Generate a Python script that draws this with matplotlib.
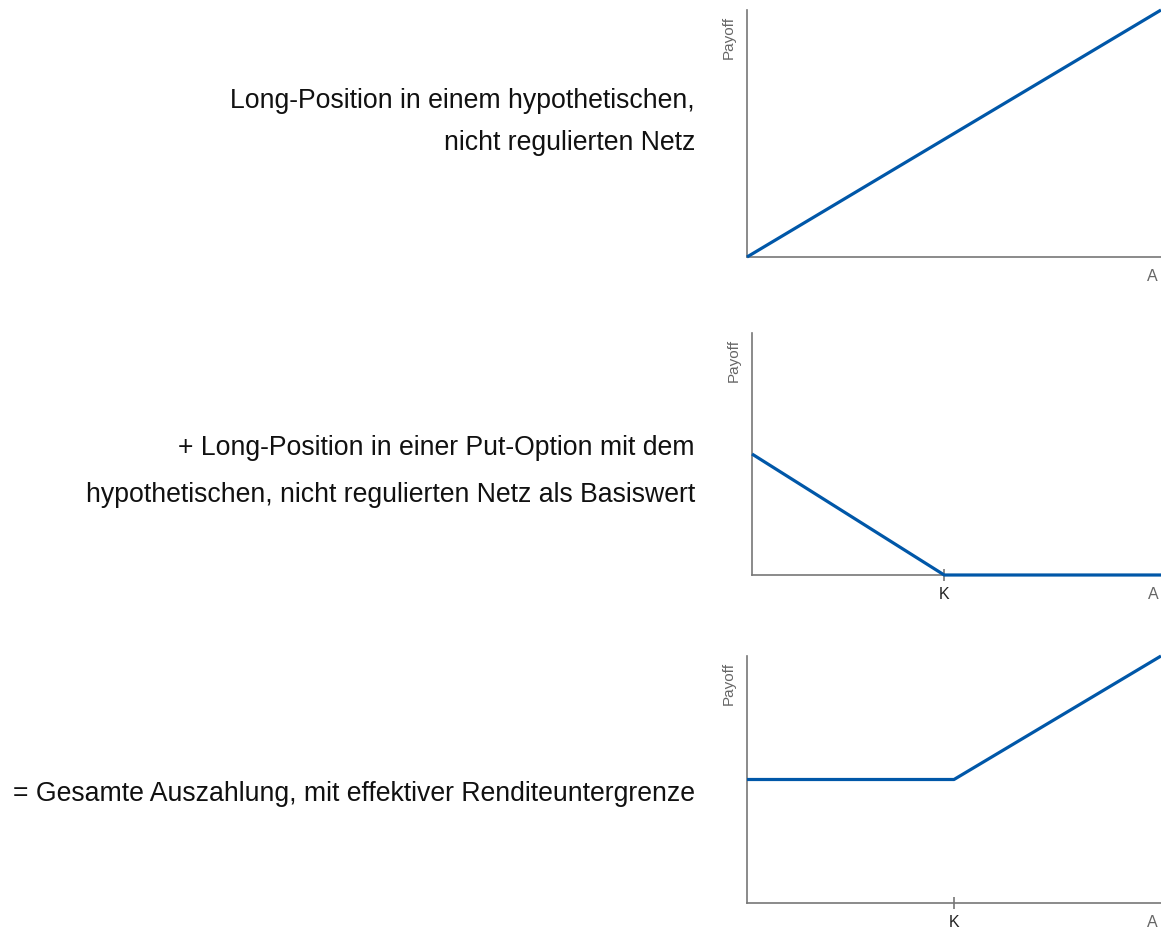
import matplotlib
matplotlib.use("Agg")
import matplotlib.pyplot as plt
from matplotlib.transforms import offset_copy

plt.rcParams['font.family'] = ['Liberation Sans', 'DejaVu Sans']

# Data
x_long = [0, 100]
y_long = [0, 100]
x_put = [0, 47, 100]
y_put = [50, 0, 0]
x_total = [0, 50, 100]
y_total = [50, 50, 100]
strike_put = 47
strike_total = 50

texts = [
    ["Long-Position in einem hypothetischen,", "nicht regulierten Netz"],
    ["+ Long-Position in einer Put-Option mit dem", "hypothetischen, nicht regulierten Netz als Basiswert"],
    ["= Gesamte Auszahlung, mit effektiver Renditeuntergrenze"],
]
text_y = [[101, 143], [448, 495], [794]]

W, H = 1161, 929
fig = plt.figure(figsize=(W / 100, H / 100), dpi=100)

LINE = '#0057a8'
AX = '#777777'
LAB = '#666666'

# panel pixel boxes: left, right, top, bottom
boxes = [(747, 1161, 11, 258), (752, 1161, 334, 576), (747, 1161, 657, 904)]
series = [(x_long, y_long, None), (x_put, y_put, strike_put), (x_total, y_total, strike_total)]

for (l, r, t, b), (xs, ys, k) in zip(boxes, series):
    ax = fig.add_axes([l / W, 1 - b / H, (r - l) / W, (b - t) / H])
    ax.plot(xs, ys, color=LINE, lw=2.3, solid_capstyle='butt', clip_on=False, zorder=3)
    ax.set_xlim(0, 100)
    ax.set_ylim(0, 100)
    for s in ['top', 'right']:
        ax.spines[s].set_visible(False)
    for s in ['left', 'bottom']:
        ax.spines[s].set_color(AX)
        ax.spines[s].set_linewidth(1.2)
    ax.set_yticks([])
    if k is not None:
        ax.set_xticks([k])
        ax.set_xticklabels(['K'])
        ax.tick_params(axis='x', direction='inout', length=8, width=1.2, color=AX,
                       labelsize=11.5, labelcolor='#222222', pad=4)
    else:
        ax.set_xticks([])
    tr = offset_copy(ax.transAxes, fig=fig, x=-18, y=-5, units='dots')
    ax.text(0, 1.0, 'Payoff', transform=tr, rotation=90,
            ha='center', va='top', fontsize=11, color=LAB)
    ax.text(0.98, -0.045, 'A', transform=ax.transAxes, ha='center', va='top',
            fontsize=11.5, color=LAB)

for lines, ys in zip(texts, text_y):
    for line, y in zip(lines, ys):
        fig.text(695 / W, 1 - y / H, line, ha='right', va='center', fontsize=19.2,
                 color='#111111')

fig.savefig('out.png', dpi=100, facecolor='white')
